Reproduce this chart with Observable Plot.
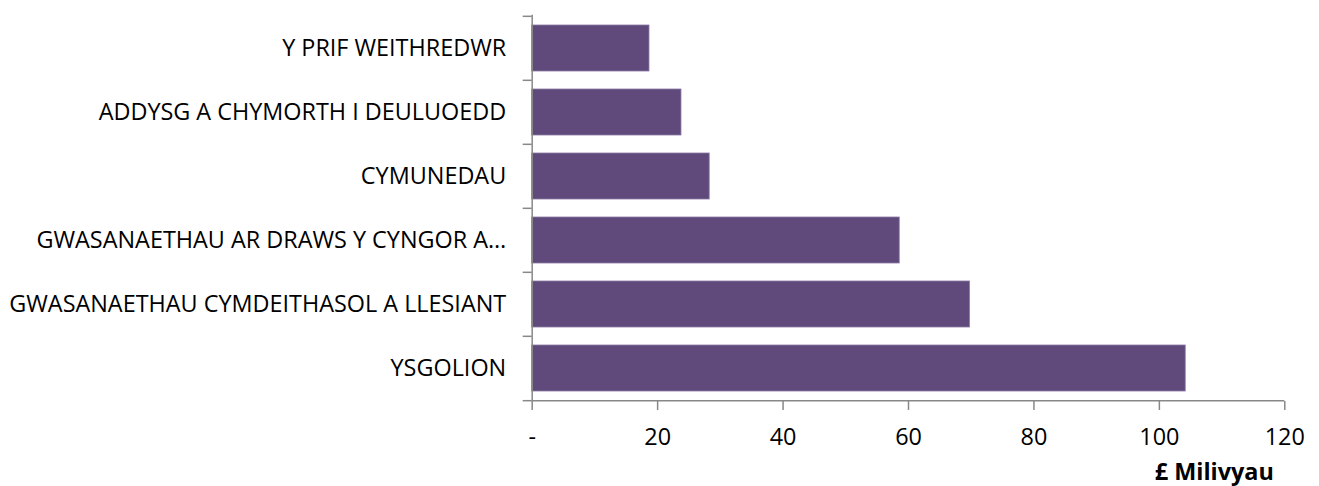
<!DOCTYPE html>
<html>
<head>
<meta charset="utf-8">
<script src="https://cdn.jsdelivr.net/npm/d3@7"></script>
<script src="https://cdn.jsdelivr.net/npm/@observablehq/plot@0.6"></script>
<style>
  html, body { margin: 0; padding: 0; background: #fff; }
  #chart svg { display: block; }
</style>
</head>
<body>
<div id="chart"></div>
<script>
const categories = [
  "Y PRIF WEITHREDWR",
  "ADDYSG A CHYMORTH I DEULUOEDD",
  "CYMUNEDAU",
  "GWASANAETHAU AR DRAWS Y CYNGOR A…",
  "GWASANAETHAU CYMDEITHASOL A LLESIANT",
  "YSGOLION"
];
const values = [18.7, 23.8, 28.3, 58.6, 69.8, 104.2];
const xTicks = [0, 20, 40, 60, 80, 100, 120];
const xLabel = "£ Milivyau";

const data = categories.map((c, i) => ({category: c, value: values[i]}));

const W = 1319, H = 486;
const mTop = 14.7, mBottom = 85, mLeft = 531.7, mRight = 34.7;
const step = (H - mTop - mBottom) / categories.length;
const axisColor = "#888888";
const font = "'Open Sans', sans-serif";
const fs = 23.4;

const chart = Plot.plot({
  width: W,
  height: H,
  marginTop: mTop,
  marginBottom: mBottom,
  marginLeft: mLeft,
  marginRight: mRight,
  style: {fontFamily: font, fontSize: fs + "px", color: "#000", background: "#fff"},
  x: {domain: [0, 120]},
  y: {domain: categories, paddingInner: 0.285, paddingOuter: 0.1425},
  marks: [
    Plot.barX(data, {x: "value", y: "category", fill: "#604a7b", stroke: "#8a79a2", strokeWidth: 0.8}),
    Plot.ruleX([0], {stroke: axisColor, strokeWidth: 1.5}),
    Plot.ruleY([categories[categories.length - 1]], {dy: step / 2, stroke: axisColor, strokeWidth: 1.5}),
    Plot.axisY({tickSize: 0, tickPadding: 26, fontSize: fs, fill: "#000", label: null}),
    Plot.axisY({tickSize: 9, text: null, dy: -step / 2, stroke: axisColor, strokeWidth: 1.5, label: null}),
    Plot.axisY([categories[categories.length - 1]], {tickSize: 9, text: null, dy: step / 2, stroke: axisColor, strokeWidth: 1.5, label: null}),
    Plot.axisX({ticks: xTicks, tickSize: 9, tickPadding: 18, stroke: axisColor, strokeWidth: 1.5, fill: "#000", fontSize: fs,
      tickFormat: d => d === 0 ? "-" : String(d), label: null}),
    Plot.text([xLabel], {frameAnchor: "bottom-right", textAnchor: "end", lineAnchor: "bottom", dx: -11, dy: 78,
      fontWeight: "bold", fontSize: fs, fill: "#000"})
  ]
});
document.getElementById("chart").appendChild(chart);
</script>
</body>
</html>
